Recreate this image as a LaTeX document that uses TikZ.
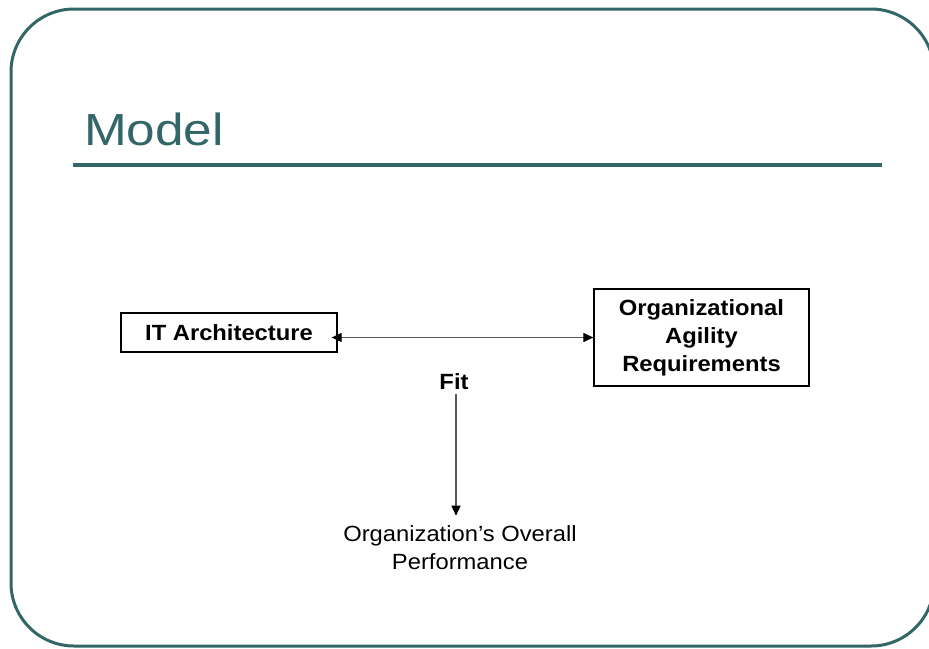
\documentclass[tikz,border=0pt]{standalone}
\usepackage{fontspec}
\setmainfont{Liberation Sans}
\newfontfamily\bodyfont[FakeStretch=1.08]{Liberation Sans}
\newfontfamily\titlefont[FakeStretch=1.14]{Liberation Sans}
\usetikzlibrary{arrows.meta}
\definecolor{teal1}{RGB}{51,102,102}
\tikzset{
  frame/.style={draw=teal1, line width=3pt, rounded corners=63pt},
  rulebar/.style={draw=teal1, line width=4pt},
  boxnode/.style={draw=black, line width=1.3pt, inner sep=0pt, align=center, font=\bodyfont\bfseries\fontsize{22}{28}\selectfont},
  plain/.style={inner sep=0pt, align=center, font=\bodyfont\fontsize{22}{28}\selectfont},
  conn/.style={draw=black!65, line width=1.2pt},
  tipend/.style={-{Triangle[length=10pt,width=9pt,color=black]}},
  tipboth/.style={{Triangle[length=10pt,width=9pt,color=black]}-{Triangle[length=10pt,width=9pt,color=black]}},
}
\begin{document}
\begin{tikzpicture}[x=1pt,y=-1pt]
\useasboundingbox (0,0) rectangle (929,648);
\clip (0,0) rectangle (929,648);
\draw[frame] (11,9) rectangle (934,646);
\node[anchor=base west, inner sep=0pt, text=teal1, font=\titlefont\fontsize{45}{54}\selectfont] (title) at (84,145) {Model};
\coordinate (rl) at (73,165);
\coordinate (rr) at (882,165);
\draw[rulebar] (rl) -- (rr);
\node[boxnode, minimum width=216pt, minimum height=39pt] (it) at (229,332.5) {IT Architecture};
\node[boxnode, minimum width=215pt, minimum height=97pt] (org) at (701.5,337.5) {Organizational\\Agility\\Requirements};
\node[inner sep=0pt, font=\bodyfont\bfseries\fontsize{22}{28}\selectfont] (fit) at (454,382) {Fit};
\node[plain] (perf) at (460,548) {Organization’s Overall\\Performance};
\draw[conn, tipboth, shorten <=-6pt] (org.west -| it.east) -- (org.west);
\draw[conn, tipend, shorten <=4pt, shorten >=10pt] ([xshift=2pt]fit.south) -- ([xshift=2pt]fit.south |- perf.north);
\end{tikzpicture}
\end{document}
